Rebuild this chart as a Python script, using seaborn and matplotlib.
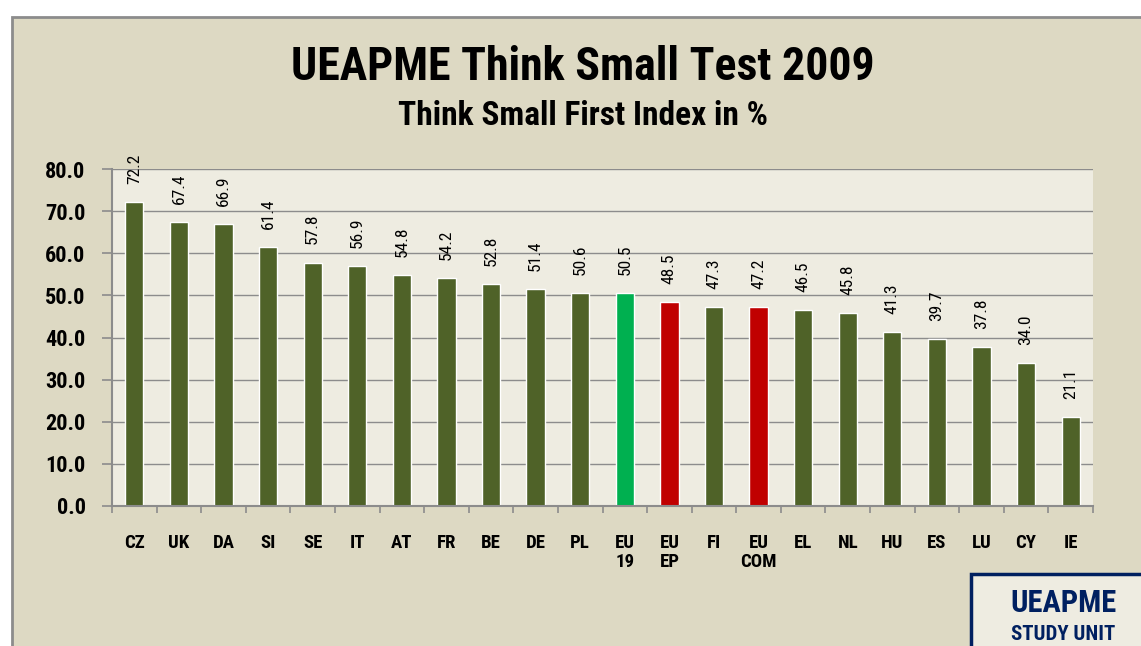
import matplotlib
matplotlib.use('Agg')
import matplotlib.pyplot as plt
from matplotlib.patches import Rectangle
import seaborn as sns
import pandas as pd

countries = ['CZ', 'UK', 'DA', 'SI', 'SE', 'IT', 'AT', 'FR', 'BE', 'DE', 'PL',
             'EU\n19', 'EU\nEP', 'FI', 'EU\nCOM', 'EL', 'NL', 'HU', 'ES', 'LU', 'CY', 'IE']
index_pct = [72.2, 67.4, 66.9, 61.4, 57.8, 56.9, 54.8, 54.2, 52.8, 51.4, 50.6,
             50.5, 48.5, 47.3, 47.2, 46.5, 45.8, 41.3, 39.7, 37.8, 34.0, 21.1]
group = ['country'] * 11 + ['eu19', 'eu', 'country', 'eu'] + ['country'] * 7

sns.set_style('white')
plt.rcParams['font.family'] = ['Liberation Sans Narrow', 'Roboto Condensed', 'Liberation Sans', 'DejaVu Sans']
plt.rcParams['text.color'] = 'black'
plt.rcParams['xtick.color'] = 'black'
plt.rcParams['ytick.color'] = 'black'

df = pd.DataFrame({'c': countries, 'v': index_pct, 'g': group})
pal = {'country': '#4F6228', 'eu19': '#00B050', 'eu': '#C00000'}

fig = plt.figure(figsize=(11.41, 6.46), dpi=100)
fig.patch.set_facecolor('white')
# outer chart panel
fig.patches.append(Rectangle((12/1141, -0.01), 1.1, 1 - 17/646 + 0.01, transform=fig.transFigure,
                             facecolor='#DDD9C3', edgecolor='#8C8C8C', linewidth=2, zorder=-5))

ax = fig.add_axes([112/1141, 1 - 506/646, (1093 - 112)/1141, (506 - 169)/646])
ax.set_zorder(1)
ax.set_facecolor('#EEECE1')
sns.barplot(data=df, x='c', y='v', hue='g', palette=pal, dodge=False, width=0.41,
            legend=False, ax=ax, saturation=1)

ax.set_ylim(0, 80)
ax.set_xlim(-0.5, len(countries) - 0.5)
ax.set_yticks(range(0, 81, 10))
ax.set_yticklabels([f'{t:.1f}' for t in range(0, 81, 10)], fontsize=16, fontweight='bold')
ax.yaxis.grid(True, color='#8C8C8C', linewidth=1)
ax.set_axisbelow(True)
ax.set_xlabel('')
ax.set_ylabel('')
for s in ['top', 'right']:
    ax.spines[s].set_visible(False)
for s in ['left', 'bottom']:
    ax.spines[s].set_color('#8C8C8C')
    ax.spines[s].set_linewidth(1.5)

ax.tick_params(axis='y', length=7, width=1.2, color='#8C8C8C', labelcolor='black', pad=12, left=True)
ax.set_xticks(range(len(countries)))
ax.set_xticklabels(countries, fontsize=13.5, fontweight='bold', linespacing=1.1, va='top')
ax.tick_params(axis='x', length=0, pad=20, labelcolor='black')
# boundary ticks between categories
ax.set_xticks([i - 0.5 for i in range(len(countries) + 1)], minor=True)
ax.tick_params(axis='x', which='minor', length=5, width=1.2, color='#8C8C8C', bottom=True)

for i, v in enumerate(index_pct):
    ax.annotate(f'{v:.1f}', (i, v), xytext=(0, 13), textcoords='offset points',
                rotation=90, ha='center', va='bottom', fontsize=12.5, annotation_clip=False)

fig.text(583/1141, 1 - 67/646, 'UEAPME Think Small Test 2009', ha='center', va='center',
         fontsize=33, fontweight='bold')
fig.text(583/1141, 1 - 116/646, 'Think Small First Index in %', ha='center', va='center',
         fontsize=24, fontweight='bold')

# study unit box
fig.patches.append(Rectangle((971/1141, -0.02), 0.2, (646 - 574)/646 + 0.02, transform=fig.transFigure,
                             facecolor='#EEECE1', edgecolor='#002060', linewidth=2.5, zorder=3))
fig.text(1063/1141, 1 - 603/646, 'UEAPME', ha='center', va='center', fontsize=22,
         fontweight='bold', color='#002060', zorder=4)
fig.text(1063/1141, 1 - 635/646, 'STUDY UNIT', ha='center', va='center', fontsize=15,
         fontweight='bold', color='#002060', zorder=4)

fig.savefig('out.png', dpi=100)
